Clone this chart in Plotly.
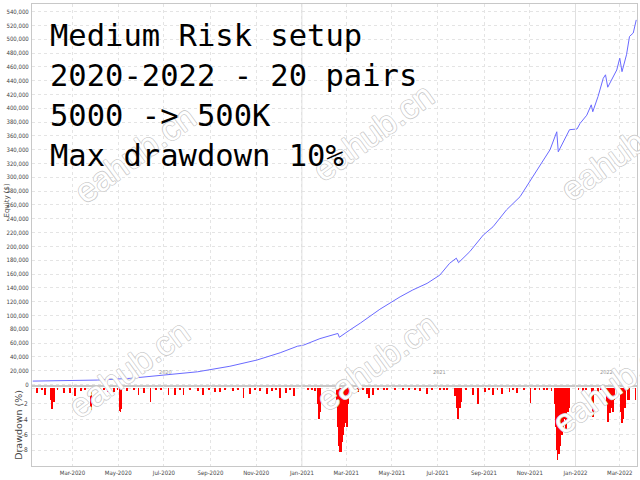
import plotly.graph_objects as go

# equity curve
eq_dates = ["2020-01-08", "2020-02-18", "2020-04-03", "2020-05-17", "2020-06-30",
            "2020-08-15", "2020-09-27", "2020-11-02", "2020-12-03", "2020-12-26",
            "2021-01-03", "2021-01-21", "2021-01-25", "2021-02-18", "2021-02-20",
            "2021-03-06", "2021-03-20", "2021-04-15", "2021-05-12", "2021-05-29",
            "2021-06-17", "2021-07-04", "2021-07-17", "2021-07-26", "2021-07-29",
            "2021-08-13", "2021-08-31", "2021-09-13", "2021-10-01", "2021-10-19",
            "2021-11-01", "2021-11-14", "2021-11-28", "2021-12-07", "2021-12-09",
            "2021-12-24", "2022-01-03", "2022-01-07", "2022-01-16", "2022-01-22",
            "2022-01-24", "2022-01-31", "2022-02-07", "2022-02-10", "2022-02-13",
            "2022-02-25", "2022-03-01", "2022-03-04", "2022-03-10", "2022-03-14",
            "2022-03-19", "2022-03-23"]
equity = [5000, 5300, 6500, 9000, 13500,
          18500, 26500, 35500, 46000, 55500,
          57000, 64000, 66500, 74000, 68500,
          79000, 89000, 109000, 127000, 137000,
          146500, 158500, 175500, 183000, 176500,
          192500, 216500, 228500, 253000, 272000,
          294000, 318000, 340000, 366000, 337000,
          369000, 370000, 378000, 390000, 405000,
          395000, 417000, 443500, 448500, 430500,
          455500, 472500, 453000, 477500, 504000,
          509000, 528000]

# drawdown spikes (%)
dd_dates = ["2020-01-14", "2020-01-24", "2020-02-01", "2020-02-02", "2020-02-03", "2020-02-05",
            "2020-02-19", "2020-02-27", "2020-03-04", "2020-03-12", "2020-03-25", "2020-03-26",
            "2020-04-07", "2020-04-17", "2020-04-25", "2020-05-03", "2020-05-04", "2020-05-05",
            "2020-05-13", "2020-05-28", "2020-06-04", "2020-06-13", "2020-07-07", "2020-07-16",
            "2020-07-27", "2020-08-15", "2020-08-22", "2020-09-07", "2020-09-14", "2020-10-01",
            "2020-10-15", "2020-10-24", "2020-11-06", "2020-11-16", "2020-11-22", "2020-12-03",
            "2020-12-11", "2020-12-22", "2021-01-09", "2021-01-19", "2021-01-23", "2021-01-24",
            "2021-01-25", "2021-02-17", "2021-02-18", "2021-02-20", "2021-02-21", "2021-02-22",
            "2021-02-24", "2021-02-25", "2021-02-26", "2021-02-28", "2021-03-01", "2021-03-02",
            "2021-03-04", "2021-03-05", "2021-03-17", "2021-03-29", "2021-04-01", "2021-04-06",
            "2021-04-25", "2021-05-05", "2021-05-16", "2021-06-08", "2021-06-17", "2021-07-04",
            "2021-07-24", "2021-07-27", "2021-07-28", "2021-07-29", "2021-07-31", "2021-08-01",
            "2021-08-02", "2021-08-17", "2021-08-24", "2021-09-02", "2021-09-13", "2021-09-25",
            "2021-10-05", "2021-10-15", "2021-11-02", "2021-11-14", "2021-11-30", "2021-12-04",
            "2021-12-06", "2021-12-07", "2021-12-08", "2021-12-10", "2021-12-11", "2021-12-12",
            "2021-12-14", "2021-12-15", "2021-12-16", "2021-12-18", "2021-12-19", "2021-12-20",
            "2021-12-22", "2021-12-23", "2021-12-24", "2022-01-11", "2022-01-23", "2022-01-24",
            "2022-01-25", "2022-01-31", "2022-02-12", "2022-02-13", "2022-02-14", "2022-02-16",
            "2022-02-17", "2022-02-20", "2022-02-21", "2022-03-02", "2022-03-04", "2022-03-05",
            "2022-03-06", "2022-03-08", "2022-03-12", "2022-03-14", "2022-03-22"]
dd_pct = [-0.6, -0.8, -1.5, -2.7, -2.6, -1.8,
          -0.6, -0.6, -1.0, -0.3, -1.5, -2.8,
          -0.3, -0.5, -0.5, -2.9, -3.0, -2.7,
          -0.3, -0.9, -0.6, -1.8, -0.8, -0.8,
          -0.8, -0.3, -0.9, -0.5, -0.4, -0.3,
          -1.2, -0.7, -0.3, -0.7, -0.3, -1.2,
          -0.6, -1.0, -0.2, -0.3, -2.0, -3.9,
          -3.0, -2.0, -5.0, -7.5, -8.3, -8.2,
          -7.0, -6.0, -5.0, -4.5, -3.5, -5.0,
          -2.0, -1.0, -0.5, -0.7, -1.2, -0.8,
          -0.2, -0.2, -0.2, -0.3, -0.7, -0.2,
          -1.0, -2.5, -4.0, -3.5, -2.5, -1.8,
          -1.0, -0.8, -2.0, -0.4, -0.8, -0.7,
          -0.4, -0.6, -1.9, -0.2, -0.3, -2.0,
          -5.0, -8.0, -9.3, -8.5, -7.5, -6.5,
          -6.0, -5.5, -4.8, -4.0, -5.5, -3.5,
          -3.0, -2.5, -1.5, -0.3, -2.0, -3.7,
          -2.0, -0.5, -2.0, -4.4, -4.0, -3.2,
          -2.5, -3.0, -1.5, -3.0, -4.5, -4.0,
          -3.5, -2.5, -1.5, -1.5, -1.5]

# the many tiny drawdowns hugging the zero line
small_dd_dates = ["2020-01-20", "2020-02-10", "2020-03-18", "2020-04-12", "2020-04-30",
                  "2020-05-22", "2020-06-20", "2020-06-27", "2020-07-22", "2020-08-05",
                  "2020-08-30", "2020-09-20", "2020-10-08", "2020-10-30", "2020-11-28",
                  "2020-12-16", "2021-01-14", "2021-03-10", "2021-03-24", "2021-04-12",
                  "2021-04-20", "2021-05-24", "2021-06-01", "2021-06-24", "2021-07-10",
                  "2021-07-14", "2021-08-08", "2021-09-08", "2021-09-19", "2021-10-10",
                  "2021-10-24", "2021-11-08", "2021-11-20", "2021-11-24", "2022-01-05",
                  "2022-01-15", "2022-02-04", "2022-02-26"]
small_dd_pct = [-0.2] * len(small_dd_dates)

eq_ticks = list(range(0, 540001, 20000))
dd_ticks = [0, -2, -4, -6, -8]
dd_tick_text = ["", "-2", "-4", "-6", "-8"]   # the 0 is shared with the equity axis
year_names = ["2020", "2021", "2022"]
year_mid = ["2020-07-03", "2021-07-04", "2022-02-11"]
year_starts = ["2021-01-01", "2022-01-01"]

text_lines = ["Medium Risk setup", "2020-2022 - 20 pairs", "5000 -> 500K", "Max drawdown 10%"]

TICK_FONT = dict(family="Liberation Sans Narrow, DejaVu Sans Condensed, sans-serif",
                 size=6, color="#444")
GRID = dict(showgrid=True, gridcolor="#e4e4e4", griddash="dot", gridwidth=1,
            showline=True, linecolor="#c8c8c8", linewidth=1, mirror=True,
            zeroline=False, ticks="", tickfont=TICK_FONT, automargin=False)

fig = go.Figure()
fig.add_trace(go.Scatter(x=eq_dates, y=equity, mode="lines",
                         line=dict(color="#6a6aff", width=1),
                         xaxis="x", yaxis="y", showlegend=False))
day_ms = 86400000
fig.add_trace(go.Bar(x=small_dd_dates + dd_dates, y=small_dd_pct + dd_pct,
                     marker=dict(color="#ff0000", line=dict(width=0)),
                     width=1.1 * day_ms, xaxis="x2", yaxis="y2", showlegend=False))

x_range = ["2020-01-07", "2022-03-24"]
fig.update_layout(
    width=640, height=480,
    margin=dict(l=32, r=3, t=4, b=14, autoexpand=False),
    paper_bgcolor="white", plot_bgcolor="white",
    bargap=0,
    xaxis=dict(GRID, domain=[0, 1], anchor="y", range=x_range, type="date",
               showticklabels=False, dtick="M2", tick0="2020-03-01"),
    xaxis2=dict(GRID, domain=[0, 1], anchor="y2", range=x_range, type="date",
                dtick="M2", tick0="2020-03-01", tickformat="%b-%Y",
                ticklabelstandoff=1),
    yaxis=dict(GRID, domain=[0.173, 1], anchor="x", range=[-2200, 551000],
               tickvals=eq_ticks, tickformat=",d", ticklabelstandoff=1),
    yaxis2=dict(GRID, domain=[0, 0.173], anchor="x2", range=[-10.05, 0.32],
                tickvals=dd_ticks, ticktext=dd_tick_text, ticklabelstandoff=2,
                tickfont=dict(TICK_FONT, size=6.5)),
)

# year boundaries and year labels
for d in year_starts:
    fig.add_shape(type="line", xref="x", yref="paper", x0=d, x1=d, y0=0, y1=1,
                  line=dict(color="#e0e0e0", width=1))
for name, d in zip(year_names, year_mid):
    fig.add_annotation(x=d, y=0.192, xref="x", yref="paper", text=name,
                       showarrow=False, font=dict(family="DejaVu Sans", size=5, color="#999"))

# watermark (added first so the big text sits on top of it)
wm_pos = [(0.17, 0.675), (0.564, 0.723), (0.973, 0.68),
          (0.16, 0.21), (0.57, 0.225), (0.96, 0.175)]
outline = ", ".join(f"{a}px {b}px 0 #cccccc" for a in (-0.6, 0.6) for b in (-0.6, 0.6))
for px, py in wm_pos:
    fig.add_annotation(x=px, y=py, xref="paper", yref="paper", text="eahub.cn",
                       textangle=-36, showarrow=False, xanchor="center", yanchor="middle",
                       font=dict(family="Liberation Sans, Arial, sans-serif", size=34,
                                 color="white", shadow=outline))

# axis titles
fig.add_annotation(x=-0.041, y=0.575, xref="paper", yref="paper", text="Equity ($)",
                   textangle=-90, showarrow=False, xanchor="center", yanchor="middle",
                   font=dict(family="DejaVu Sans, sans-serif", size=7, color="#444"))
fig.add_annotation(x=-0.0215, y=0.089, xref="paper", yref="paper", text="Drawdown (%)",
                   textangle=-90, showarrow=False, xanchor="center", yanchor="middle",
                   font=dict(family="DejaVu Sans, sans-serif", size=9.5, color="#444"))

# big overlay text
for i, line in enumerate(text_lines):
    fig.add_annotation(x=0.026, y=0.931 - i * 0.0866, xref="paper", yref="paper",
                       text=line, showarrow=False, xanchor="left", yanchor="middle",
                       font=dict(family="DejaVu Sans Mono, monospace", size=30.5, color="black"))

fig.write_html("out.html", config={"displayModeBar": False},
               post_script="document.body.style.margin='0';")
